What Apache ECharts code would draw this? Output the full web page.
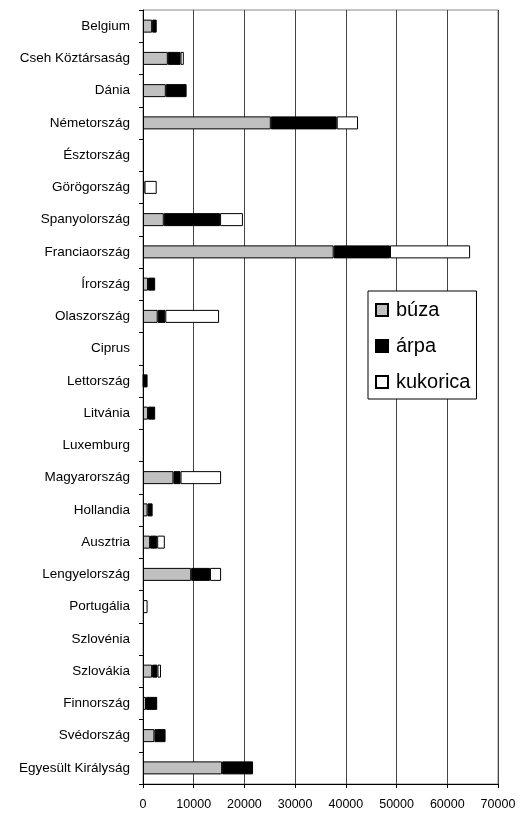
<!DOCTYPE html>
<html>
<head>
<meta charset="utf-8">
<script src="https://cdn.jsdelivr.net/npm/echarts@6/dist/echarts.min.js"></script>
<style>
  html, body { margin: 0; padding: 0; background: #fff; }
  #main { width: 520px; height: 820px; }
</style>
</head>
<body>
<div id="main"></div>
<script>
// categories, top to bottom
var orszagok = ['Belgium', 'Cseh Köztársaság', 'Dánia', 'Németország', 'Észtország',
  'Görögország', 'Spanyolország', 'Franciaország', 'Írország', 'Olaszország', 'Ciprus',
  'Lettország', 'Litvánia', 'Luxemburg', 'Magyarország', 'Hollandia', 'Ausztria',
  'Lengyelország', 'Portugália', 'Szlovénia', 'Szlovákia', 'Finnország', 'Svédország',
  'Egyesült Királyság'];

// values
var buza = [1800, 4900, 4500, 25200, 0, 0, 4100, 37600, 1000, 2900, 0,
  100, 1000, 0, 6000, 900, 1400, 9500, 0, 0, 1800, 600, 2250, 15600];
var arpa = [900, 2500, 4100, 13000, 0, 300, 11100, 11100, 1400, 1500, 0,
  800, 1400, 0, 1400, 1000, 1400, 3700, 0, 0, 1050, 2200, 2200, 6100];
var kukorica = [0, 650, 0, 4200, 0, 2400, 4500, 15800, 0, 10600, 0,
  0, 0, 0, 8000, 0, 1500, 2200, 900, 0, 700, 0, 0, 0];

var xTicks = [0, 10000, 20000, 30000, 40000, 50000, 60000, 70000];

var chart = echarts.init(document.getElementById('main'));

function bar(name, data, color) {
  return {
    name: name,
    type: 'bar',
    stack: 'total',
    barWidth: 13,
    // zero values drawn as empty so no border sliver shows
    data: data.map(function (v) { return v === 0 ? '-' : v; }),
    itemStyle: { color: color, borderColor: '#000', borderWidth: 1 },
    emphasis: { disabled: true }
  };
}

var option = {
  animation: false,
  textStyle: { fontFamily: 'Liberation Sans, Arial, sans-serif' },
  grid: {
    left: 143, right: 22, top: 10, bottom: 36,
    show: true, borderColor: '#888', borderWidth: 1
  },
  legend: {
    orient: 'vertical',
    left: 368, top: 291,
    padding: [9, 6, 7, 7],
    itemGap: 16,
    icon: 'rect',
    itemWidth: 12, itemHeight: 12,
    borderColor: '#000', borderWidth: 1,
    backgroundColor: '#fff',
    textStyle: { fontSize: 20, color: '#000', padding: [0, 0, 0, 3] },
    data: ['búza', 'árpa', 'kukorica']
  },
  xAxis: {
    type: 'value',
    min: 0, max: 70000, interval: 10000,
    axisLine: { show: true, lineStyle: { color: '#000' } },
    axisTick: { show: true, length: 4, lineStyle: { color: '#000' } },
    axisLabel: { fontSize: 12.5, color: '#000', margin: 14,
      formatter: function (v) { return xTicks.indexOf(v) >= 0 ? String(v) : ''; } },
    splitLine: { show: true, lineStyle: { color: '#444', width: 1 } }
  },
  yAxis: {
    type: 'category',
    inverse: true,
    data: orszagok,
    axisLine: { show: true, lineStyle: { color: '#000' } },
    axisTick: { show: true, length: 4, lineStyle: { color: '#000' } },
    axisLabel: { fontSize: 13.5, color: '#000', margin: 13 }
  },
  series: [
    bar('búza', buza, '#c0c0c0'),
    bar('árpa', arpa, '#000'),
    bar('kukorica', kukorica, '#fff')
  ]
};

chart.setOption(option);
</script>
</body>
</html>
